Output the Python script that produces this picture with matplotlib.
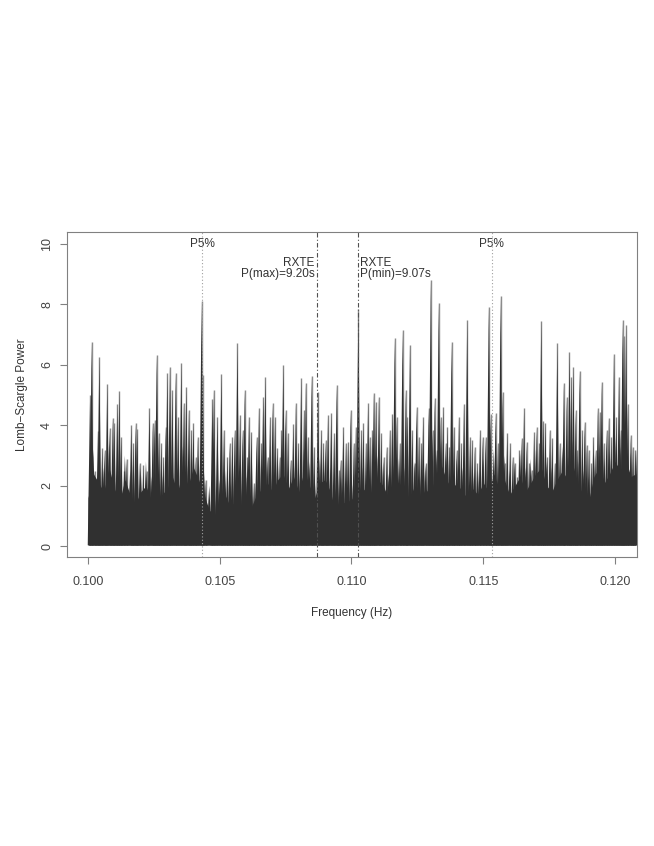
import numpy as np
import matplotlib
matplotlib.use("Agg")
import matplotlib.pyplot as plt
from matplotlib.collections import PolyCollection

plt.rcParams['font.family'] = ['Liberation Sans', 'DejaVu Sans']

# tall spikes of the periodogram (frequency in Hz, power)
peak_freq = [
    0.10008, 0.10014, 0.10025, 0.10038, 0.10043, 0.10054, 0.10063, 0.10073, 0.10082, 0.10094,
    0.10100, 0.10111, 0.10119, 0.10126, 0.10137, 0.10147, 0.10164, 0.10172, 0.10181, 0.10187,
    0.10197, 0.10210, 0.10223, 0.10233, 0.10246, 0.10253, 0.10261, 0.10269, 0.10278, 0.10286,
    0.10295, 0.10301, 0.10311, 0.10320, 0.10333, 0.10342, 0.10354, 0.10364, 0.10373, 0.10383,
    0.10392, 0.10400, 0.10409, 0.10417, 0.10431, 0.10435, 0.10447, 0.10472, 0.10478, 0.10491,
    0.10506, 0.10516, 0.10529, 0.10538, 0.10548, 0.10557, 0.10567, 0.10577, 0.10587,
    0.10595, 0.10605, 0.10611, 0.10620, 0.10630, 0.10640, 0.10649, 0.10658, 0.10665, 0.10673,
    0.10683, 0.10691, 0.10701, 0.10710, 0.10718, 0.10728, 0.10734, 0.10741, 0.10750, 0.10759,
    0.10769, 0.10779, 0.10789, 0.10798, 0.10809, 0.10820, 0.10827, 0.10835, 0.10849, 0.10858,
    0.10873, 0.10885, 0.10893,
    0.10902, 0.10911, 0.10923, 0.10934, 0.10944, 0.10953, 0.10959, 0.10969, 0.10979, 0.10987,
    0.10997, 0.11009, 0.11017, 0.11026, 0.11037, 0.11045, 0.11055, 0.11063, 0.11070, 0.11079,
    0.11085, 0.11093, 0.11104, 0.11113, 0.11123, 0.11134, 0.11146, 0.11155, 0.11164, 0.11172,
    0.11184, 0.11194,
    0.11206, 0.11212, 0.11222, 0.11231, 0.11240, 0.11247, 0.11256, 0.11265, 0.11272, 0.11283,
    0.11293, 0.11301, 0.11308, 0.11316, 0.11323, 0.11331, 0.11339, 0.11348, 0.11357, 0.11364,
    0.11371, 0.11380, 0.11389, 0.11399, 0.11408, 0.11417, 0.11427, 0.11439, 0.11450, 0.11458,
    0.11468, 0.11477, 0.11488, 0.11498,
    0.11509, 0.11521, 0.11528, 0.11538, 0.11547, 0.11556, 0.11566, 0.11574, 0.11581, 0.11591,
    0.11602, 0.11612, 0.11619, 0.11629, 0.11637, 0.11646, 0.11655, 0.11665, 0.11674, 0.11684,
    0.11693, 0.11703, 0.11712, 0.11720, 0.11728, 0.11736, 0.11743, 0.11753, 0.11762, 0.11772,
    0.11781, 0.11791, 0.11802,
    0.11806, 0.11817, 0.11827, 0.11834, 0.11842, 0.11851, 0.11857, 0.11866, 0.11876, 0.11885,
    0.11893, 0.11901, 0.11910, 0.11918, 0.11927, 0.11935, 0.11943, 0.11950, 0.11958, 0.11968,
    0.11977, 0.11986, 0.11996, 0.12005, 0.12015, 0.12022, 0.12029, 0.12034, 0.12042, 0.12049,
    0.12060, 0.12068, 0.12077,
]
peak_power = [
    5.00, 6.77, 2.50, 3.80, 6.27, 3.24, 3.18, 5.36, 3.90, 4.24,
    4.07, 4.70, 5.14, 3.60, 2.50, 2.90, 4.00, 3.40, 4.07, 3.87,
    2.75, 2.68, 2.50, 4.57, 4.07, 4.17, 6.32, 3.74, 3.40, 2.95,
    3.95, 5.72, 5.94, 5.17, 5.74, 4.28, 6.07, 4.73, 5.26, 4.50,
    3.84, 4.07, 2.95, 3.62, 8.12, 5.66, 2.20, 4.86, 5.17, 4.28,
    5.70, 3.84, 2.96, 3.40, 3.62, 3.84, 6.71, 4.34, 3.84,
    5.17, 2.96, 4.28, 3.78, 2.08, 3.62, 4.57, 3.41, 4.94, 5.61,
    2.96, 4.27, 4.73, 4.28, 3.24, 2.95, 3.84, 6.00, 4.50, 3.74,
    2.85, 4.04, 4.73, 3.41, 5.55, 4.50, 5.39, 3.62, 5.63, 3.29,
    5.11, 3.84, 3.41,
    3.51, 4.34, 4.41, 3.73, 5.33, 2.52, 2.85, 3.95, 3.41, 3.45,
    4.50, 3.41, 3.95, 7.84, 3.84, 4.07, 3.41, 4.73, 3.62, 3.84,
    5.08, 4.78, 4.94, 3.73, 2.96, 3.29, 3.84, 4.39, 6.88, 4.28,
    3.41, 7.15,
    5.17, 4.28, 6.65, 3.84, 2.74, 4.61, 3.62, 3.41, 4.28, 2.74,
    4.56, 8.81, 3.84, 4.89, 3.18, 8.06, 4.28, 4.61, 3.41, 3.95,
    3.29, 6.77, 3.95, 3.18, 4.28, 3.41, 4.72, 7.50, 3.62, 3.51,
    3.29, 2.74, 3.84, 3.62,
    3.62, 7.93, 4.39, 2.52, 4.41, 3.40, 8.28, 5.11, 2.74, 3.75,
    3.40, 2.96, 2.74, 2.30, 3.18, 3.57, 4.56, 3.45, 2.74, 2.52,
    3.77, 3.95, 3.40, 7.46, 4.15, 4.08, 2.96, 3.84, 3.57, 2.74,
    6.71, 3.40, 2.96,
    5.39, 4.94, 6.43, 5.61, 5.94, 4.50, 3.18, 5.81, 3.84, 4.12,
    3.34, 3.18, 2.74, 3.62, 3.18, 4.56, 4.45, 5.44, 3.40, 3.84,
    4.23, 3.62, 6.36, 4.28, 5.61, 3.84, 7.48, 6.95, 7.32, 4.72,
    3.68, 3.29, 3.18,
]

# dense low-level part of the periodogram, one value every 0.0002 Hz from 0.1000 Hz
base_start = 0.1000
base_step = 0.0002
base_power = [
    1.6, 2.4, 2.1, 1.8, 2.6, 1.9, 1.5, 2.2, 1.7, 1.4, 1.8, 2.0, 1.5, 1.3, 1.7,
    1.9, 2.3, 1.8, 2.5, 2.0, 2.6, 2.2, 1.7, 1.2, 1.0, 1.4, 1.7, 1.3, 1.5, 1.2,
    1.5, 1.3, 1.7, 1.9, 2.1, 1.8, 2.2, 2.4, 1.9, 2.3, 1.8, 2.5, 2.0, 1.6, 2.1,
    2.2, 1.8, 1.1, 1.5, 1.4, 1.6, 1.3, 1.8, 2.0, 1.7, 2.2, 2.0, 1.6, 1.9, 2.1,
    1.8, 1.6, 2.0, 1.5, 1.9, 1.7, 2.4, 2.7, 2.2, 1.9, 2.1, 1.8, 1.6, 1.9, 1.7,
    2.1, 1.8, 2.4, 1.9, 2.2, 1.7, 2.0, 2.3, 1.8, 2.1, 2.4, 2.6, 2.0, 1.8, 2.2,
    2.5, 2.2, 2.7, 2.0, 1.7, 1.5, 2.3, 2.6, 2.1, 2.4, 2.8, 2.5, 2.9, 2.3, 2.4,
]

p5_freqs = [0.10433, 0.11532]
rxte_pmax = 9.20
rxte_pmin = 9.07

floor = 0.03
dark = '#303030'

fig = plt.figure(figsize=(6.54, 8.46), dpi=100)
ax = fig.add_axes([67 / 654, 1 - 557 / 846, 570 / 654, 325 / 846])

# spikes: thin grey line, drawn first so the dark mass covers its foot
ax.vlines(peak_freq, floor, peak_power, colors='#8c8c8c', linewidth=1.0, zorder=1)

# base mass
base_freq = base_start + base_step * np.arange(len(base_power))
ax.fill_between(base_freq, floor, base_power, color=dark, linewidth=0, zorder=2)
hw = 0.00012
tri = [[(f - hw, floor), (f, p + 0.8), (f + hw, floor)]
       for f, p in zip(base_freq[1:], base_power[1:])]
ax.add_collection(PolyCollection(tri, facecolors=dark, edgecolors='none', zorder=2))

# dark narrow triangle at the foot of each spike
hw2 = 0.00009
tri2 = [[(f - hw2, floor), (f, p), (f + hw2, floor)] for f, p in zip(peak_freq, peak_power)]
ax.add_collection(PolyCollection(tri2, facecolors=dark, edgecolors='none', zorder=3))

# reference lines
for f in p5_freqs:
    ax.axvline(f, color='#a0a0a0', linestyle=(0, (1, 2)), linewidth=0.8, zorder=4)
ax.axvline(1 / rxte_pmax, color='#505050', linestyle=(0, (4, 2, 1, 2)), linewidth=0.8, zorder=4)
ax.axvline(1 / rxte_pmin, color='#505050', linestyle=(0, (4, 2, 1, 2)), linewidth=0.8, zorder=4)

tc = '#333333'
fs = 8.5
for f in p5_freqs:
    ax.text(f, 10.0, 'P5%', ha='center', va='center', fontsize=fs, color=tc)
ax.text(1 / rxte_pmax - 0.0001, 9.37, 'RXTE', ha='right', va='center', fontsize=fs, color=tc)
ax.text(1 / rxte_pmax - 0.0001, 9.0, 'P(max)=%.2fs' % rxte_pmax, ha='right', va='center',
        fontsize=fs, color=tc)
ax.text(1 / rxte_pmin + 0.00008, 9.37, 'RXTE', ha='left', va='center', fontsize=fs, color=tc)
ax.text(1 / rxte_pmin + 0.00008, 9.0, 'P(min)=%.2fs' % rxte_pmin, ha='left', va='center',
        fontsize=fs, color=tc)

ax.set_xlim(0.099203, 0.120835)
ax.set_ylim(-0.36, 10.4)
ax.set_xticks([0.100, 0.105, 0.110, 0.115, 0.120])
ax.set_xticklabels(['0.100', '0.105', '0.110', '0.115', '0.120'])
ax.set_yticks([0, 2, 4, 6, 8, 10])
ax.set_yticklabels(['0', '2', '4', '6', '8', '10'], rotation=90, va='center')

for s in ax.spines.values():
    s.set_color('#808080')
    s.set_linewidth(0.8)
ax.tick_params(axis='both', colors='#808080', length=5, width=0.8, labelsize=9, labelcolor='#444444')
ax.tick_params(axis='x', pad=9)
ax.tick_params(axis='y', pad=5)

ax.set_xlabel('Frequency (Hz)', fontsize=8.5, color=tc)
ax.set_ylabel('Lomb\u2212Scargle Power', fontsize=8.5, color=tc)
ax.xaxis.set_label_coords(0.5, -0.154)
ax.yaxis.set_label_coords(-0.0684, 0.5)

fig.savefig('out.png', dpi=100, facecolor='white')
